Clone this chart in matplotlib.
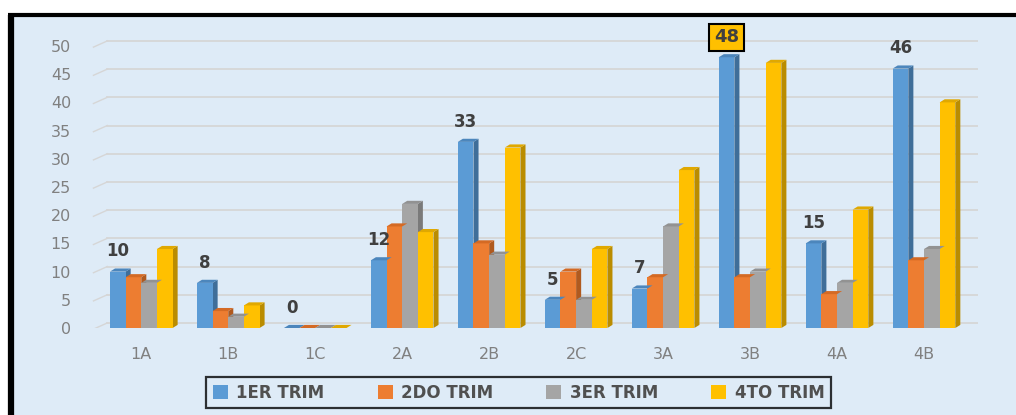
import numpy as np
import matplotlib
matplotlib.use('Agg')
import matplotlib.pyplot as plt
from matplotlib.patches import Polygon, Rectangle, Patch
from matplotlib.lines import Line2D

# ------------------------------------------------------
# DATA
# ------------------------------------------------------
categories = ['1A', '1B', '1C', '2A', '2B', '2C', '3A', '3B', '4A', '4B']
series_names = ['1ER TRIM', '2DO TRIM', '3ER TRIM', '4TO TRIM']
trim1 = [10, 8, 0, 12, 33, 5, 7, 48, 15, 46]
trim2 = [9, 3, 0, 18, 15, 10, 9, 9, 6, 12]
trim3 = [8, 2, 0, 22, 13, 5, 18, 10, 8, 14]
trim4 = [14, 4, 0, 17, 32, 14, 28, 47, 21, 40]
yticks = list(range(0, 51, 5))

# ------------------------------------------------------
# STYLE
# ------------------------------------------------------
front = ['#5B9BD5', '#ED7D31', '#A5A5A5', '#FFC000']
side = ['#3F6E99', '#B05A1F', '#7A7A7A', '#BA8C00']
top = ['#4C86BC', '#D46A24', '#929292', '#E0A800']
bg = '#DEEBF7'

W, H = 1016, 415
fig = plt.figure(figsize=(W / 100, H / 100), dpi=100)
fig.patch.set_facecolor('white')

# light blue chart area, drawn behind the axes
fig.patches.append(Rectangle((11 / W, 0), 1, 1 - 15 / H, transform=fig.transFigure,
                             facecolor=bg, edgecolor='none', zorder=-5))
# black frame (left and top only visible)
fig.lines.append(Line2D([11 / W, 11 / W], [0, 1 - 15 / H], transform=fig.transFigure,
                        color='black', linewidth=4.5, zorder=5, solid_capstyle='butt'))
fig.lines.append(Line2D([8 / W, 1], [1 - 15 / H, 1 - 15 / H], transform=fig.transFigure,
                        color='black', linewidth=3.0, zorder=5, solid_capstyle='butt'))

ax = fig.add_axes([89.1 / W, 87 / H, 888.8 / W, 293.3 / H])
ax.set_facecolor('none')
ax.set_xlim(-0.6, 9.62)
ax.set_ylim(0, 52)
for s in ax.spines.values():
    s.set_visible(False)

x = np.arange(len(categories))
bw = 0.18
dx = 0.058
dy = 0.55
grid_shift = 0.9

# back-wall gridlines with a little floor stub on the left
for t in yticks:
    ax.plot([-0.39, 9.62], [t + grid_shift, t + grid_shift], color='#D6D6D6', lw=1.3, zorder=1)
    ax.plot([-0.55, -0.39], [t - 0.2, t + grid_shift], color='#D6D6D6', lw=1.0, zorder=1)

data = [trim1, trim2, trim3, trim4]
for k, vals in enumerate(data):
    xs = x + (k - 1.5) * bw
    ax.bar(xs, vals, width=bw, color=front[k], edgecolor='none', zorder=3, label=series_names[k])
    for xi, v in zip(xs, vals):
        r = xi + bw / 2
        l = xi - bw / 2
        ax.add_patch(Polygon([(r, 0), (r + dx, dy), (r + dx, v + dy), (r, v)],
                             closed=True, facecolor=side[k], edgecolor='none', zorder=2.9))
        ax.add_patch(Polygon([(l, v), (l + dx, v + dy), (r + dx, v + dy), (r, v)],
                             closed=True, facecolor=top[k], edgecolor='none', zorder=3.1))

# data labels for first series only
for i, v in enumerate(trim1):
    xi = x[i] - 1.5 * bw
    if v == max(trim1):
        ax.annotate(str(v), (xi, v), xytext=(0, 14.5), textcoords='offset points',
                    ha='center', va='center', fontsize=13, fontweight='bold', color='#404040',
                    bbox=dict(boxstyle='square,pad=0.25', facecolor='#FFC000',
                              edgecolor='black', linewidth=1.5), zorder=6, annotation_clip=False)
    else:
        ax.annotate(str(v), (xi, v), xytext=(0, 14.5), textcoords='offset points',
                    ha='center', va='center', fontsize=12, fontweight='bold', color='#404040',
                    zorder=6, annotation_clip=False)

ax.set_yticks(yticks)
ax.set_xticks(x)
ax.set_xticklabels(categories)
ax.tick_params(axis='both', length=0, labelsize=11.5, labelcolor='#808080')
ax.tick_params(axis='y', pad=13)
ax.tick_params(axis='x', pad=14)

handles = [Patch(facecolor=c, edgecolor='none') for c in front]
leg = fig.legend(handles, series_names, loc='center', bbox_to_anchor=(518.5 / W, 1 - 392.5 / H),
                 ncol=4, frameon=True, fancybox=False, handlelength=0.9, handleheight=0.9,
                 handletextpad=0.5, columnspacing=3.2, borderpad=0.4, borderaxespad=0,
                 prop={'size': 12, 'weight': 'bold'})
leg.get_frame().set_edgecolor('black')
leg.get_frame().set_linewidth(1.6)
leg.get_frame().set_facecolor(bg)
for t in leg.get_texts():
    t.set_color('#505050')

fig.savefig('out.png', dpi=100, facecolor=fig.get_facecolor())
